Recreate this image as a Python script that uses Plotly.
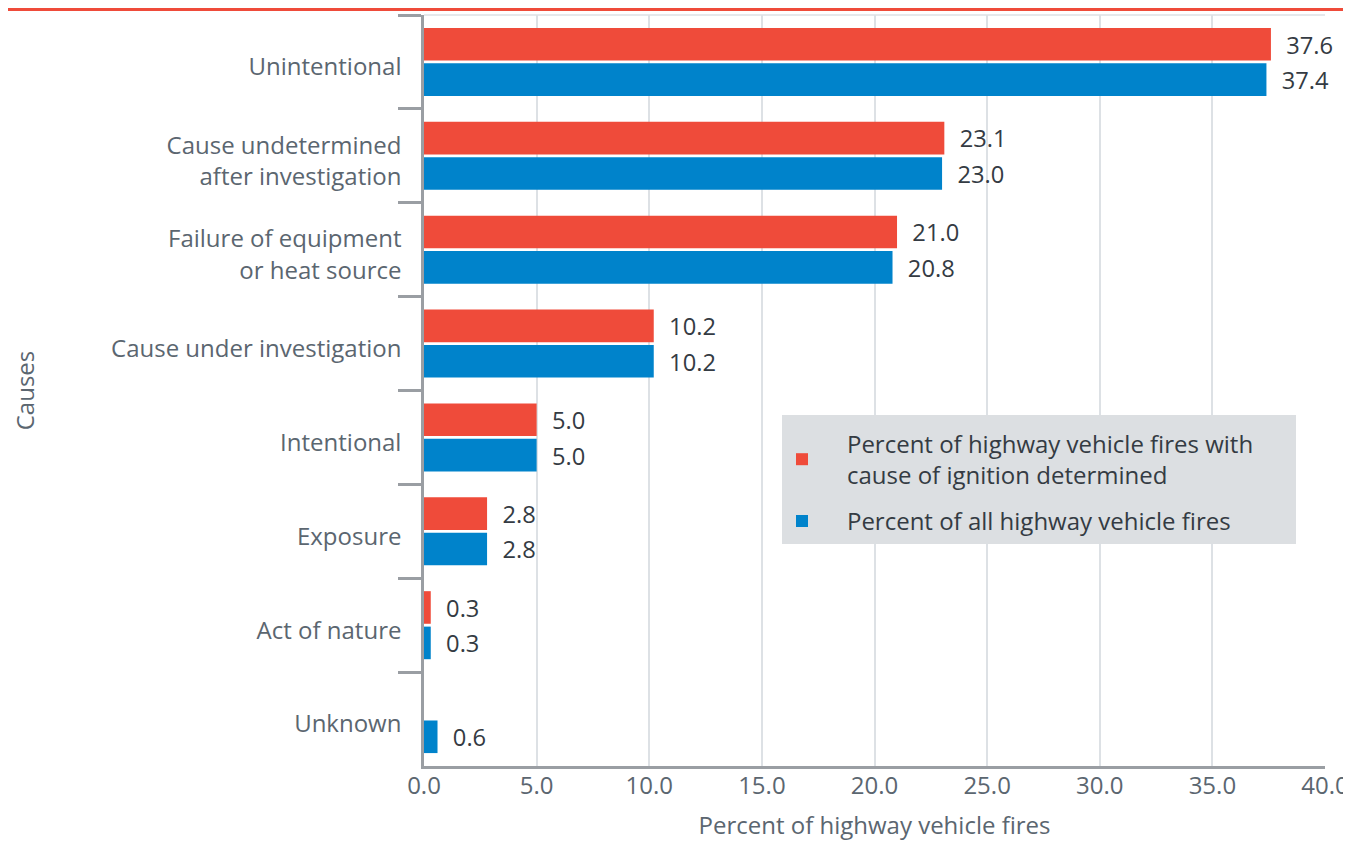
import plotly.graph_objects as go

causes = ["Unintentional", "Cause undetermined<br>after investigation",
          "Failure of equipment<br>or heat source", "Cause under investigation",
          "Intentional", "Exposure", "Act of nature", "Unknown"]
determined = [37.6, 23.1, 21.0, 10.2, 5.0, 2.8, 0.3, None]
all_fires = [37.4, 23.0, 20.8, 10.2, 5.0, 2.8, 0.3, 0.6]

NB = "\u00a0"
name_det = (NB * 4 + "Percent of highway vehicle fires with" + NB * 6 + "<br>"
            + NB * 4 + "cause of ignition determined")
name_all = NB * 4 + "Percent of all highway vehicle fires"

RED = "#ef4b3a"
BLUE = "#0083cb"
# page body adds an 8px offset; sizes chosen so the plot lands where the reference has it
W, H = 1343, 833
ML, MR, MT, MB = 416, 26, 7, 75
PW = W - ML - MR
PH = H - MT - MB

fig = go.Figure()
for i, (vals, nm, col) in enumerate([(determined, name_det, RED), (all_fires, name_all, BLUE)]):
    fig.add_trace(go.Bar(
        y=causes, x=vals, name=nm, orientation="h", legendgroup=f"g{i}",
        marker=dict(color=col, line=dict(width=0)),
        texttemplate=NB * 2 + "%{x:.1f}", textposition="outside",
        textfont=dict(size=24, color="#343b43", family="Open Sans"),
        cliponaxis=False,
    ))

fig.update_layout(
    width=W, height=H,
    margin=dict(l=ML, r=MR, t=MT, b=MB, autoexpand=False),
    paper_bgcolor="white", plot_bgcolor="white",
    font=dict(family="Open Sans", size=24, color="#5b6670"),
    barmode="group", bargap=0.245, bargroupgap=0.08,
    legend=dict(
        x=(774 - ML) / PW, y=(MT + PH - 407) / PH, xanchor="left", yanchor="top",
        bgcolor="#dcdfe2", borderwidth=0, traceorder="grouped",
        font=dict(size=24, color="#343b43"),
        tracegroupgap=12,
        title=dict(text=NB, font=dict(size=5)),
    ),
    xaxis=dict(
        range=[0, 40], dtick=5, tickformat=".1f", automargin=False,
        showgrid=True, gridcolor="#dde1e5", gridwidth=1.5,
        zeroline=False, showline=True, linecolor="#9a9ea3", linewidth=2.5,
        ticks="", ticklabelstandoff=-4,
        tickfont=dict(size=24, color="#5b6670"),
        title=dict(text="Percent of highway vehicle fires", standoff=40,
                   font=dict(size=24, color="#5b6670")),
    ),
    yaxis=dict(
        autorange="reversed", automargin=False,
        showline=True, linecolor="#9a9ea3", linewidth=2.5,
        ticks="outside", tickson="boundaries", ticklen=23, tickwidth=2.5,
        tickcolor="#9a9ea3", showgrid=False, ticklabelstandoff=15,
        ticklabelshift=-5,
        tickfont=dict(size=24, color="#5b6670"),
        title=dict(text="Causes", standoff=96, font=dict(size=24, color="#5b6670")),
    ),
    shapes=[
        dict(type="rect", xref="paper", yref="paper",
             x0=-ML / PW, x1=1 + MR / PW, y0=1 + (MT - 3) / PH, y1=1 + MT / PH,
             fillcolor=RED, line=dict(width=0), layer="above"),
        dict(type="line", xref="paper", yref="paper", x0=0, x1=1, y0=1, y1=1,
             line=dict(color="#dde1e5", width=1.5)),
    ],
)
fig.write_html("out.html")
